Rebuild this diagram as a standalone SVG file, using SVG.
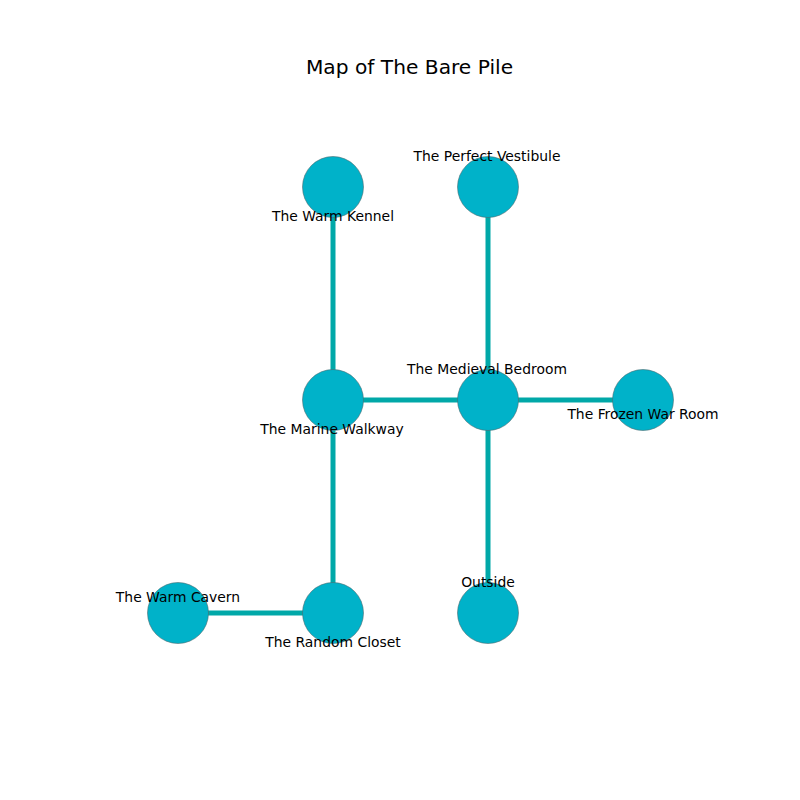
<svg xmlns="http://www.w3.org/2000/svg" width="800" height="800" viewBox="0 0 800 800">
<style>
.edge{stroke:#00a8a8;stroke-width:5;fill:none}
.node circle{fill:#00b2c9;stroke:#4d6b70;stroke-width:0.6}
text{font-family:"DejaVu Sans",sans-serif;font-size:13.9px;fill:#000;text-anchor:middle;dominant-baseline:central}
.title{font-size:20.2px}
</style>
<rect width="800" height="800" fill="#fff"/>
<text class="title" x="409.5" y="67">Map of The Bare Pile</text>
<g id="connectors">
<line class="edge" x1="333" y1="187" x2="333" y2="400"/>
<line class="edge" x1="488" y1="187" x2="488" y2="400"/>
<line class="edge" x1="333" y1="400" x2="488" y2="400"/>
<line class="edge" x1="488" y1="400" x2="643" y2="400"/>
<line class="edge" x1="488" y1="400" x2="488" y2="613"/>
<line class="edge" x1="333" y1="400" x2="333" y2="613"/>
<line class="edge" x1="178" y1="613" x2="333" y2="613"/>
</g>
<g id="n-warm-kennel" class="node"><circle cx="333" cy="187" r="30.5"/></g>
<g id="n-perfect-vestibule" class="node"><circle cx="488" cy="187" r="30.5"/></g>
<g id="n-marine-walkway" class="node"><circle cx="333" cy="400" r="30.5"/></g>
<g id="n-medieval-bedroom" class="node"><circle cx="488" cy="400" r="30.5"/></g>
<g id="n-frozen-war-room" class="node"><circle cx="643" cy="400" r="30.5"/></g>
<g id="n-warm-cavern" class="node"><circle cx="178" cy="613" r="30.5"/></g>
<g id="n-random-closet" class="node"><circle cx="333" cy="613" r="30.5"/></g>
<g id="n-outside" class="node"><circle cx="488" cy="613" r="30.5"/></g>
<g id="labels">
<text x="333" y="216">The Warm Kennel</text>
<text x="487" y="156">The Perfect Vestibule</text>
<text x="332" y="429">The Marine Walkway</text>
<text x="487" y="369">The Medieval Bedroom</text>
<text x="643" y="414">The Frozen War Room</text>
<text x="178" y="597">The Warm Cavern</text>
<text x="333" y="642">The Random Closet</text>
<text x="488" y="582">Outside</text>
</g>
</svg>
